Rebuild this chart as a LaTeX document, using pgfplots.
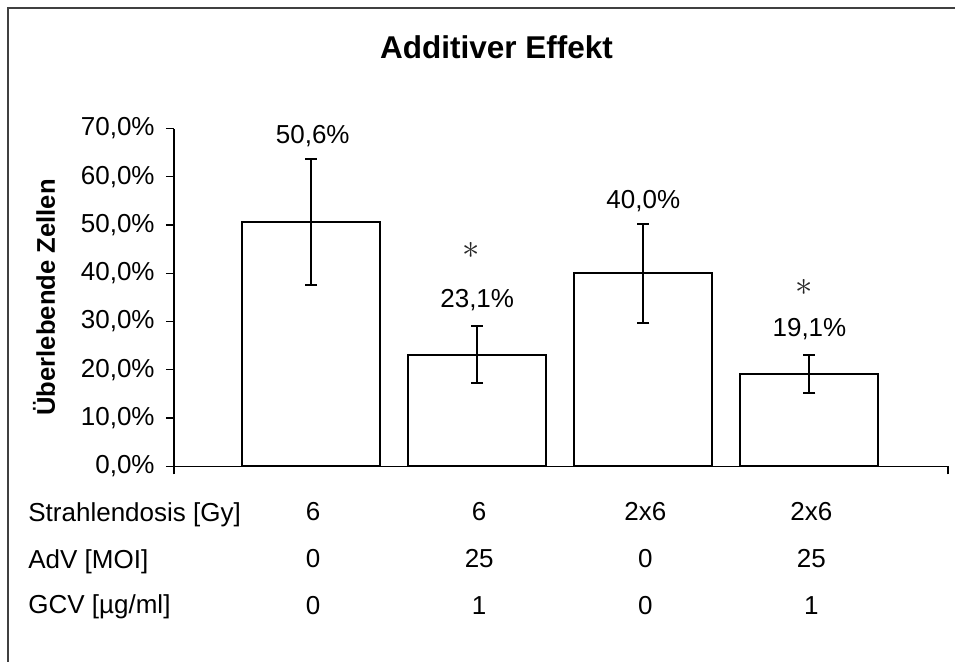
\documentclass[border=0pt]{standalone}
\usepackage{pgfplots}
\pgfplotsset{compat=1.18}
\usepackage{fontspec}
\setmainfont{Liberation Sans}
\begin{document}
\begin{tikzpicture}[font=\fontsize{13pt}{15pt}\selectfont]
\useasboundingbox (0pt,0pt) rectangle (477.5pt,330.5pt);
\draw[line width=0.8pt, black!75] (4pt,-5pt) -- (4pt,326.5pt) -- (483pt,326.5pt);
\begin{axis}[
  at={(87pt,97.35pt)}, anchor=south west, scale only axis,
  width=387pt, height=168.9pt,
  xmin=0.1747, xmax=4.834, ymin=0, ymax=70,
  ybar, bar width=0.831,
  axis x line=bottom, axis y line=left,
  axis line style={-, line width=0.7pt, black},
  tick align=outside, major tick length=4pt,
  tick style={black, line width=0.7pt},
  ytick={0,10,...,70},
  yticklabels={{0,0\%},{10,0\%},{20,0\%},{30,0\%},{40,0\%},{50,0\%},{60,0\%},{70,0\%}},
  yticklabel style={font=\fontsize{13pt}{15pt}\selectfont, inner sep=0pt, anchor=east, xshift=-5.5pt},
  xtick={1,2,3,4},
  xtick style={draw=none},
  xticklabels={{6\\0\\0},{6\\25\\1},{2x6\\0\\0},{2x6\\25\\1}},
  xticklabel style={align=center, anchor=north, inner sep=0pt,
     font=\fontsize{13pt}{23.3pt}\selectfont, xshift=1pt, yshift=-14pt},
  extra x ticks={0.1747,4.834}, extra x tick labels={},
  extra x tick style={xtick style={draw=black, line width=0.7pt}},
  ylabel={Überlebende Zellen},
  ylabel style={at={(rel axis cs:0,0.5)}, anchor=center, rotate=0, yshift=65pt,
     font=\bfseries\fontsize{12.8pt}{15pt}\selectfont},
  title={Additiver Effekt},
  title style={at={(rel axis cs:0.4167,1)}, anchor=center, yshift=34.5pt,
     font=\bfseries\fontsize{15.75pt}{18pt}\selectfont},
  clip=false,
]
\addplot[fill=white, draw=black, line width=1pt,
  error bars/.cd, y dir=both, y explicit,
  error bar style={line width=1pt, black},
  error mark options={rotate=90, mark size=3pt, line width=1pt, black}]
 coordinates {(1,50.6) +- (0,13.0) (2,23.1) +- (0,5.9) (3,40.0) +- (0,10.2) (4,19.1) +- (0,4.0)};
\node[anchor=base] at (axis cs:1.01,67.0) {50,6\%};
\node[anchor=base] at (axis cs:2.0,33.0) {23,1\%};
\node[anchor=base] at (axis cs:3.0,53.5) {40,0\%};
\node[anchor=base] at (axis cs:4.0,26.8) {19,1\%};
\node[black!85, font=\fontsize{17pt}{17pt}\selectfont] at (axis cs:1.965,44.8) {$\ast$};
\node[black!85, font=\fontsize{17pt}{17pt}\selectfont] at (axis cs:3.97,37.1) {$\ast$};
\end{axis}
\node[anchor=base west, inner sep=0pt] at (14pt,70pt) {Strahlendosis [Gy]};
\node[anchor=base west, inner sep=0pt] at (14pt,46.5pt) {AdV [MOI]};
\node[anchor=base west, inner sep=0pt] at (14pt,24pt) {GCV [µg/ml]};
\end{tikzpicture}
\end{document}
